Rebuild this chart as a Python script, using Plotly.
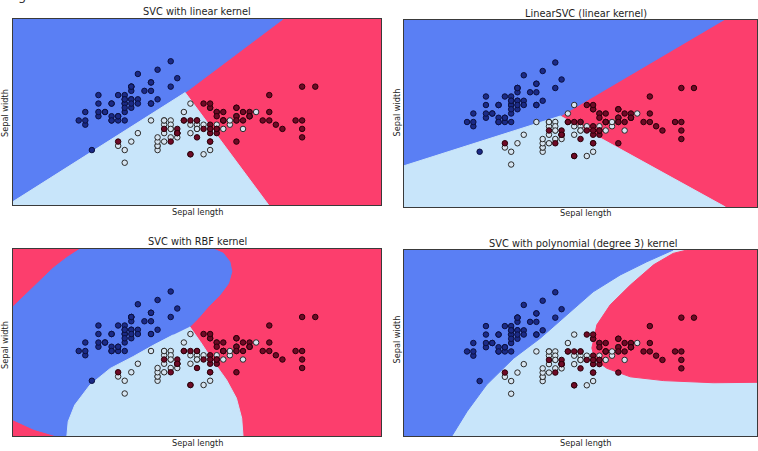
import plotly.graph_objects as go

# Iris measurements: sepal length / sepal width per species
setosa_length = [5.1, 4.9, 4.7, 4.6, 5.0, 5.4, 4.6, 5.0, 4.4, 4.9, 5.4, 4.8, 4.8, 4.3, 5.8, 5.7, 5.4, 5.1, 5.7, 5.1,
                 5.4, 5.1, 4.6, 5.1, 4.8, 5.0, 5.0, 5.2, 5.2, 4.7, 4.8, 5.4, 5.2, 5.5, 4.9, 5.0, 5.5, 4.9, 4.4, 5.1,
                 5.0, 4.5, 4.4, 5.0, 5.1, 4.8, 5.1, 4.6, 5.3, 5.0]
setosa_width = [3.5, 3.0, 3.2, 3.1, 3.6, 3.9, 3.4, 3.4, 2.9, 3.1, 3.7, 3.4, 3.0, 3.0, 4.0, 4.4, 3.9, 3.5, 3.8, 3.8,
                3.4, 3.7, 3.6, 3.3, 3.4, 3.0, 3.4, 3.5, 3.4, 3.2, 3.1, 3.4, 4.1, 4.2, 3.1, 3.2, 3.5, 3.6, 3.0, 3.4,
                3.5, 2.3, 3.2, 3.5, 3.8, 3.0, 3.8, 3.2, 3.7, 3.3]
versicolor_length = [7.0, 6.4, 6.9, 5.5, 6.5, 5.7, 6.3, 4.9, 6.6, 5.2, 5.0, 5.9, 6.0, 6.1, 5.6, 6.7, 5.6, 5.8, 6.2, 5.6,
                     5.9, 6.1, 6.3, 6.1, 6.4, 6.6, 6.8, 6.7, 6.0, 5.7, 5.5, 5.5, 5.8, 6.0, 5.4, 6.0, 6.7, 6.3, 5.6, 5.5,
                     5.5, 6.1, 5.8, 5.0, 5.6, 5.7, 5.7, 6.2, 5.1, 5.7]
versicolor_width = [3.2, 3.2, 3.1, 2.3, 2.8, 2.8, 3.3, 2.4, 2.9, 2.7, 2.0, 3.0, 2.2, 2.9, 2.9, 3.1, 3.0, 2.7, 2.2, 2.5,
                    3.2, 2.8, 2.5, 2.8, 2.9, 3.0, 2.8, 3.0, 2.9, 2.6, 2.4, 2.4, 2.7, 2.7, 3.0, 3.4, 3.1, 2.3, 3.0, 2.5,
                    2.6, 3.0, 2.6, 2.3, 2.7, 3.0, 2.9, 2.9, 2.5, 2.8]
virginica_length = [6.3, 5.8, 7.1, 6.3, 6.5, 7.6, 4.9, 7.3, 6.7, 7.2, 6.5, 6.4, 6.8, 5.7, 5.8, 6.4, 6.5, 7.7, 7.7, 6.0,
                    6.9, 5.6, 7.7, 6.3, 6.7, 7.2, 6.2, 6.1, 6.4, 7.2, 7.4, 7.9, 6.4, 6.3, 6.1, 7.7, 6.3, 6.4, 6.0, 6.9,
                    6.7, 6.9, 5.8, 6.8, 6.7, 6.7, 6.3, 6.5, 6.2, 5.9]
virginica_width = [3.3, 2.7, 3.0, 2.9, 3.0, 3.0, 2.5, 2.9, 2.5, 3.6, 3.2, 2.7, 3.0, 2.5, 2.8, 3.2, 3.0, 3.8, 2.6, 2.2,
                   3.2, 2.8, 2.8, 2.7, 3.3, 3.2, 2.8, 3.0, 2.8, 3.0, 2.8, 3.8, 2.8, 2.8, 2.6, 3.0, 3.4, 3.1, 3.0, 3.1,
                   3.1, 3.1, 2.7, 3.2, 3.3, 3.0, 2.5, 3.0, 3.4, 3.0]

titles = ["SVC with linear kernel", "LinearSVC (linear kernel)",
          "SVC with RBF kernel", "SVC with polynomial (degree 3) kernel"]

# Decision regions (sepal length, sepal width) per classifier
linear_blue_x = [3.3, 5.92, 7.41, 3.3]
linear_blue_y = [1.08, 3.66, 5.4, 5.4]
linear_light_x = [3.3, 3.3, 5.92, 7.19]
linear_light_y = [1.0, 1.08, 3.66, 1.0]

linsvc_blue_x = [3.3, 5.78, 8.37, 3.3]
linsvc_blue_y = [1.97, 3.14, 5.4, 5.4]
linsvc_light_x = [3.3, 3.3, 5.78, 8.40]
linsvc_light_y = [1.0, 1.97, 3.14, 1.0]

rbf_blue_x = [3.3, 3.61, 3.91, 4.12, 4.32, 6.35, 6.50, 6.60, 6.63, 6.58, 6.45, 6.27, 6.12, 5.99,
              5.74, 5.44, 5.13, 4.78, 4.47, 4.24, 4.14, 4.12, 3.96, 3.61, 3.3]
rbf_blue_y = [4.04, 4.51, 4.95, 5.20, 5.4, 5.4, 5.30, 5.10, 4.87, 4.59, 4.32, 4.04, 3.77, 3.57,
              3.38, 3.14, 2.87, 2.59, 2.20, 1.73, 1.34, 1.0, 1.0, 1.16, 1.38]
rbf_light_x = [5.99, 6.15, 6.35, 6.55, 6.70, 6.78, 6.80, 4.12, 4.14, 4.24, 4.47, 4.78, 5.13, 5.44, 5.74]
rbf_light_y = [3.57, 3.22, 2.75, 2.32, 1.89, 1.42, 1.0, 1.0, 1.34, 1.73, 2.20, 2.59, 2.87, 3.14, 3.38]

poly_blue_x = [3.3, 3.3, 4.06, 4.30, 4.61, 5.04, 5.46, 5.88, 6.30, 6.73, 7.15, 7.57]
poly_blue_y = [5.4, 1.0, 1.0, 1.58, 2.21, 2.84, 3.31, 3.86, 4.41, 4.81, 5.12, 5.4]
poly_red_x = [7.79, 7.57, 7.26, 6.89, 6.57, 6.36, 6.28, 6.33, 6.52, 6.89, 7.42, 8.21, 8.9, 8.9]
poly_red_y = [5.4, 5.32, 5.05, 4.57, 4.10, 3.63, 3.08, 2.80, 2.60, 2.40, 2.31, 2.26, 2.27, 5.4]

BLUE = "#5a7ff4"
LIGHT = "#c8e5fa"
RED = "#fc3e6d"

W, H = 758, 451


def px(x):
    return x / W


def py(y):
    return 1 - y / H


# plot areas in pixels: (left, right, top, bottom)
boxes = [(13, 381, 19, 205), (404, 757, 20, 207), (13, 381, 249, 436), (404, 757, 250, 436)]

x_min = min(setosa_length + versicolor_length + virginica_length) - 1
x_max = max(setosa_length + versicolor_length + virginica_length) + 1
y_min = min(setosa_width + versicolor_width + virginica_width) - 1
y_max = max(setosa_width + versicolor_width + virginica_width) + 1
rect_x = [x_min, x_max, x_max, x_min]
rect_y = [y_min, y_min, y_max, y_max]

# per panel: background class colour followed by overlaid regions
panels = [
    (RED, [(linear_blue_x, linear_blue_y, BLUE), (linear_light_x, linear_light_y, LIGHT)]),
    (RED, [(linsvc_blue_x, linsvc_blue_y, BLUE), (linsvc_light_x, linsvc_light_y, LIGHT)]),
    (RED, [(rbf_blue_x, rbf_blue_y, BLUE), (rbf_light_x, rbf_light_y, LIGHT)]),
    (LIGHT, [(poly_blue_x, poly_blue_y, BLUE), (poly_red_x, poly_red_y, RED)]),
]

species = [
    (setosa_length, setosa_width, "#1b2a86", "#0b1040"),
    (versicolor_length, versicolor_width, "#d6e4f0", "#2b2b2b"),
    (virginica_length, virginica_width, "#6e0a26", "#2a0008"),
]

fig = go.Figure()
for i, (base, regions) in enumerate(panels):
    xa = "x" if i == 0 else f"x{i + 1}"
    ya = "y" if i == 0 else f"y{i + 1}"
    fig.add_trace(go.Scatter(x=rect_x, y=rect_y, fill="toself", fillcolor=base, mode="lines",
                             line=dict(color=base, width=1), hoverinfo="skip", showlegend=False,
                             xaxis=xa, yaxis=ya))
    for rx, ry, col in regions:
        fig.add_trace(go.Scatter(x=rx, y=ry, fill="toself", fillcolor=col, mode="lines",
                                 line=dict(color=col, width=1), hoverinfo="skip", showlegend=False,
                                 xaxis=xa, yaxis=ya))
    for sx, sy, fc, ec in species:
        fig.add_trace(go.Scatter(x=sx, y=sy, mode="markers",
                                 marker=dict(size=5.5, color=fc, line=dict(color=ec, width=1)),
                                 showlegend=False, xaxis=xa, yaxis=ya))

axis_style = dict(showline=True, mirror=True, linecolor="#3a3a3a", linewidth=1, showgrid=False,
                  zeroline=False, showticklabels=False, ticks="", fixedrange=True)

layout = dict(width=W, height=H, margin=dict(l=0, r=0, t=0, b=0),
              paper_bgcolor="white", plot_bgcolor="white", showlegend=False)
annotations = []
font = "DejaVu Sans, Arial, sans-serif"
title_pos = [(197, 11.5), (586, 14), (197, 241.5), (583, 243)]
xlabel_pos = [(197, 212), (585, 213), (197, 443), (585, 442.5)]
ylabel_pos = [(5, 113), (396.5, 113), (5, 345), (396.5, 340)]


def label(text, pos, size, angle=0):
    return dict(text=text, x=px(pos[0]), y=py(pos[1]), xref="paper", yref="paper",
                xanchor="center", yanchor="middle", showarrow=False, textangle=angle,
                font=dict(family=font, size=size, color="#1e1e1e"))


for i, (l, r, t, b) in enumerate(boxes):
    sfx = "" if i == 0 else str(i + 1)
    layout["xaxis" + sfx] = dict(domain=[px(l), px(r)], range=[x_min, x_max],
                                 anchor="y" + sfx, **axis_style)
    layout["yaxis" + sfx] = dict(domain=[py(b), py(t)], range=[y_min, y_max],
                                 anchor="x" + sfx, **axis_style)
    annotations.append(label(titles[i], title_pos[i], 9.8))
    annotations.append(label("Sepal length", xlabel_pos[i], 8.2))
    annotations.append(label("Sepal width", ylabel_pos[i], 8.2, -90))

# caption glyph clipped at the top-left edge
annotations.append(dict(text="g", x=px(22), y=py(5), xref="paper", yref="paper", showarrow=False,
                        xanchor="center", yanchor="bottom",
                        font=dict(family=font, size=13, color="#333333")))
layout["annotations"] = annotations
fig.update_layout(**layout)

fig.write_html("out.html")
